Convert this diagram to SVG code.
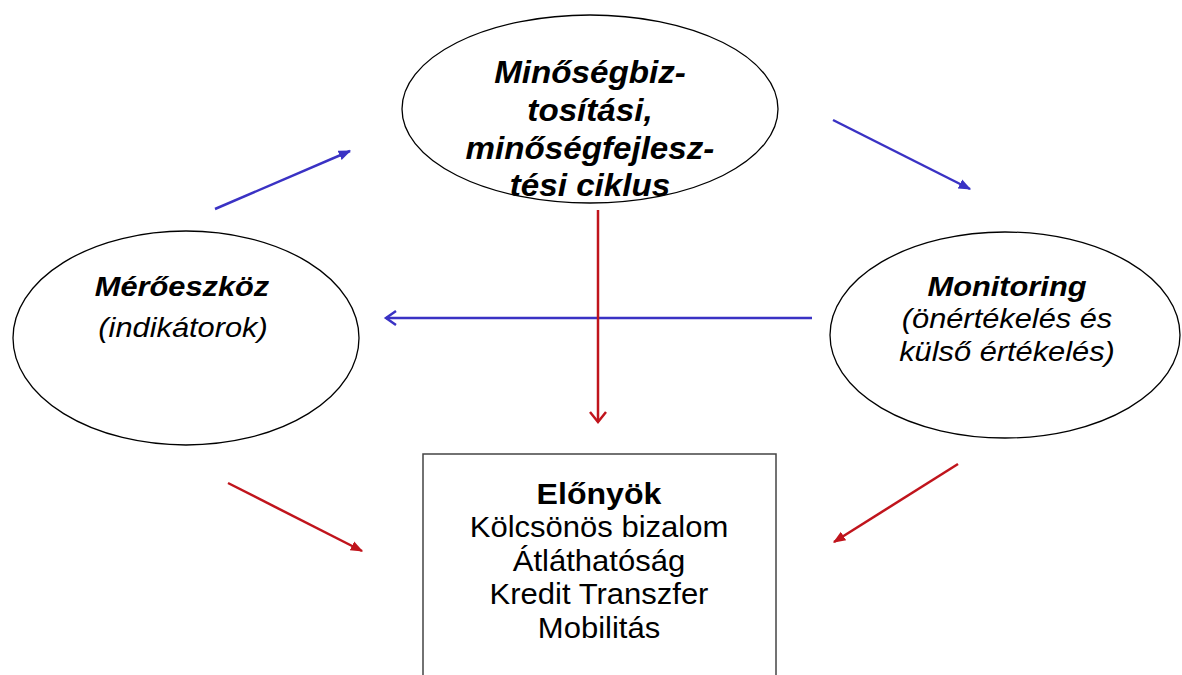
<svg xmlns="http://www.w3.org/2000/svg" width="1182" height="675" viewBox="0 0 1182 675">
<style>
.shape{fill:#fff;stroke:#000;stroke-width:1.3}
.box{fill:#fff;stroke:#444;stroke-width:1.5}
.t{font-family:"Liberation Sans",Arial,sans-serif;fill:#000;text-anchor:middle}
.bi{font-weight:bold;font-style:italic}
.i{font-style:italic}
.b{font-weight:bold}
.blue{stroke:#3a32c4;stroke-width:2.5;fill:none}
.red{stroke:#c0141c;stroke-width:2.5;fill:none}
</style>
<defs>
<marker id="ab" viewBox="0 0 10 10" refX="9" refY="5" markerWidth="5" markerHeight="5" orient="auto" markerUnits="strokeWidth"><path d="M0,1 L10,5 L0,9 z" fill="#3a32c4"/></marker>
<marker id="ar" viewBox="0 0 10 10" refX="9" refY="5" markerWidth="5" markerHeight="5" orient="auto" markerUnits="strokeWidth"><path d="M0,1 L10,5 L0,9 z" fill="#c0141c"/></marker>
</defs>
<rect width="1182" height="675" fill="#fff"/>
<g id="connectors">
<line class="blue" x1="215" y1="209" x2="350" y2="151" marker-end="url(#ab)"/>
<line class="blue" x1="833" y1="120" x2="970" y2="189" marker-end="url(#ab)"/>
<line class="blue" x1="812" y1="318" x2="386" y2="318"/>
<polyline class="blue" points="396,311 386,318 396,325"/>
<line class="red" x1="598" y1="210" x2="598" y2="422"/>
<polyline class="red" points="590,412 598,422 606,412"/>
<line class="red" x1="228" y1="483" x2="362" y2="551" marker-end="url(#ar)"/>
<line class="red" x1="958" y1="464" x2="834" y2="542" marker-end="url(#ar)"/>
</g>
<g id="node-ciklus">
<ellipse class="shape" cx="590" cy="109" rx="188" ry="94"/>
<text class="t bi" font-size="31" transform="matrix(1.07 0 0 1 590 83)">Minőségbiz-</text>
<text class="t bi" font-size="31" transform="matrix(1.07 0 0 1 590 121)">tosítási,</text>
<text class="t bi" font-size="31" transform="matrix(1.07 0 0 1 590 159)">minőségfejlesz-</text>
<text class="t bi" font-size="31" transform="matrix(1.07 0 0 1 590 196)">tési ciklus</text>
</g>
<g id="node-meroeszkoz">
<ellipse class="shape" cx="186" cy="338" rx="173" ry="107"/>
<text class="t bi" font-size="28" transform="matrix(1.1 0 0 1 182 296)">Mérőeszköz</text>
<text class="t i" font-size="28" transform="matrix(1.1 0 0 1 183 337)">(indikátorok)</text>
</g>
<g id="node-monitoring">
<ellipse class="shape" cx="1005" cy="335" rx="175" ry="103"/>
<text class="t bi" font-size="28" transform="matrix(1.1 0 0 1 1007 296)">Monitoring</text>
<text class="t i" font-size="28" transform="matrix(1.1 0 0 1 1007 328)">(önértékelés és</text>
<text class="t i" font-size="28" transform="matrix(1.1 0 0 1 1007 361)">külső értékelés)</text>
</g>
<g id="node-elonyok">
<rect class="box" x="423" y="454" width="353" height="240"/>
<text class="t b" font-size="30" transform="matrix(1.07 0 0 1 599 504)">Előnyök</text>
<text class="t" font-size="29" transform="matrix(1.07 0 0 1 599 537)">Kölcsönös bizalom</text>
<text class="t" font-size="29" transform="matrix(1.07 0 0 1 599 571)">Átláthatóság</text>
<text class="t" font-size="29" transform="matrix(1.07 0 0 1 599 604)">Kredit Transzfer</text>
<text class="t" font-size="29" transform="matrix(1.07 0 0 1 599 638)">Mobilitás</text>
</g>
</svg>
